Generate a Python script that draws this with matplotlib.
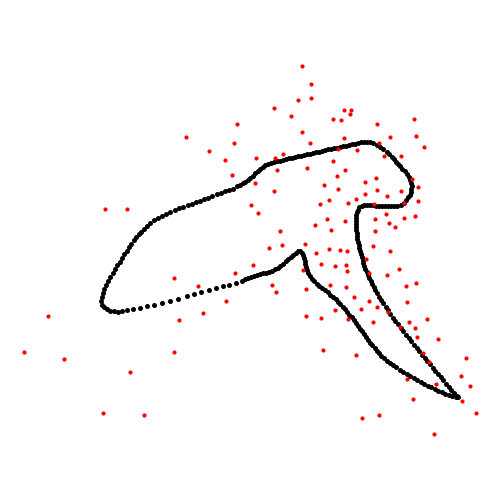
import matplotlib.pyplot as plt
import numpy as np

# scattered red points, read in picture pixels (x right, y down)
red_x = [302.3, 311.3, 298.3, 311.3, 274.3, 291.3, 344.3, 351.3, 350.3, 333.3,
         341.3, 414.3, 377.3, 302.3, 416.3, 390.3, 344.3, 310.3, 379.3, 424.0,
         357.3, 338.3, 256.3, 275.3, 283.3, 384.3, 401.3, 333.3, 277.3, 307.3,
         345.3, 337.3, 376.3, 412.3, 255.3, 365.3, 418.3, 324.3, 338.3, 377.3,
         274.3, 401.3, 365.3, 387.3, 329.3, 356.3, 320.3, 348.3, 374.3, 404.3,
         418.3, 251.3, 258.3, 386.3, 415.3, 327.3, 375.3, 404.3, 389.3, 345.3,
         315.3, 395.3, 331.3, 375.3, 280.3, 282.3, 305.3, 269.3, 373.3, 329.3,
         340.3, 347.3, 316.3, 390.3, 366.3, 321.3, 335.3, 346.3, 253.3, 303.3,
         347.3, 369.3, 399.3, 387.3, 272.3, 276.3, 330.3, 346.3, 406.3, 416.3,
         306.3, 354.3, 369.3, 407.3, 335.3, 361.3, 377.3, 306.3, 321.3, 348.3,
         388.3, 427.3, 373.3, 409.3, 400.3, 415.3, 417.3, 438.3, 323.3, 356.3,
         423.3, 429.3, 466.3, 461.3, 407.3, 436.3, 470.3, 413.3, 462.3, 476.3,
         362.3, 379.3, 434.3,
         237.3, 186.3, 209.3, 234.3, 225.3, 232.3, 105.3, 127.3, 174.3, 235.3,
         198.3, 226.3, 203.3, 179.3, 48.3, 24.3, 64.3, 174.3, 130.3, 103.3, 144.3]
red_y = [66.3, 84.3, 100.3, 98.3, 108.3, 116.3, 110.3, 110.3, 114.3, 119.3,
         120.3, 119.3, 124.3, 132.3, 136.3, 137.3, 138.3, 143.3, 143.3, 147.3,
         150.3, 149.3, 158.3, 158.3, 154.3, 156.3, 156.3, 161.3, 170.3, 168.3,
         170.3, 176.3, 178.3, 179.3, 183.3, 182.3, 187.3, 185.3, 189.3, 190.3,
         191.3, 191.3, 194.3, 196.3, 200.3, 199.3, 204.3, 203.3, 204.3, 203.3,
         201.3, 205.3, 213.3, 214.3, 216.3, 219.3, 219.3, 218.3, 223.3, 221.3,
         225.3, 227.3, 230.3, 231.3, 231.3, 245.3, 244.3, 248.3, 246.3, 249.3,
         250.3, 251.3, 253.3, 251.3, 259.3, 264.3, 266.3, 265.3, 265.3, 270.3,
         271.3, 273.3, 269.3, 275.3, 285.3, 292.3, 285.3, 287.3, 286.3, 283.3,
         289.3, 297.3, 301.3, 302.3, 310.3, 309.3, 307.3, 316.3, 318.3, 319.3,
         312.3, 319.3, 322.3, 322.3, 327.3, 328.3, 337.3, 339.3, 350.3, 355.3,
         353.3, 362.3, 358.3, 376.3, 379.3, 384.3, 386.3, 399.3, 401.3, 413.3,
         418.3, 415.3, 434.3,
         124.3, 137.3, 151.3, 143.3, 160.3, 175.3, 209.3, 209.3, 278.3, 273.3,
         286.3, 301.3, 313.3, 320.3, 316.3, 352.3, 359.3, 352.3, 372.3, 413.3, 415.3]

# black outline, traced piece by piece (picture pixels)
ridge = [(237, 186), (240, 184.5), (242.5, 183), (245, 181.5), (247.5, 179.5), (250, 177.5),
         (252.5, 175.5), (255, 173.3), (257.5, 171), (260, 168.5), (262.5, 166.8), (265, 165.3),
         (268, 164), (271, 163), (274, 162.2), (277, 161.3), (280, 160.6), (283, 159.8),
         (286, 159), (289, 158.2), (292, 157.6), (295, 157), (298, 156.4), (301, 155.8),
         (304, 155.1), (307, 154.4), (310, 153.6), (313, 152.9), (316, 152.2), (319, 151.5),
         (322, 150.8), (325, 150.1), (328, 149.4), (331, 148.8), (334, 148.2), (337, 147.6),
         (340, 147), (343, 146.4), (346, 145.7), (349, 145), (352, 144.3), (355, 143.6),
         (358, 143), (361, 142.4), (364, 142), (367, 141.8), (370, 142.3)]
hook = [(373.3, 143.3), (376.5, 144.8), (380, 146.7), (383, 148.8), (386.7, 151.7), (389, 154),
        (391.5, 156.5), (393.5, 158.7), (396, 161.5), (398, 164), (400, 166.3), (402, 168.8),
        (404.5, 171.3), (406.7, 173.8), (408.5, 176.5), (410.3, 179.5), (411.2, 182.5),
        (411.5, 185.5), (411.2, 188.5), (410.5, 191.5), (409.5, 194.5), (408, 197),
        (406, 199.8), (403.5, 202.5), (400.5, 204.5), (397, 205.7), (394, 206.1), (391, 206.2),
        (388, 206.2), (385, 206.1), (382, 206), (379, 205.9), (376, 205.7), (373, 205.4),
        (370, 205.2), (367, 205), (364, 205.1), (361.5, 205.7), (359.3, 207.2), (357.7, 209.5),
        (356.7, 212.3), (356.1, 215.3), (355.9, 218.3), (355.9, 221.3), (356, 224.3)]
tail_out = [(356.2, 227.3), (356.4, 230.3), (356.7, 233.3), (357, 236.3), (357.4, 239.3),
            (357.9, 242.3), (358.5, 245.3), (359.2, 248.3), (360, 251.3), (360.9, 254.3),
            (361.7, 257.3), (362.5, 260.3), (363.4, 263.3), (364.4, 266.3), (365.4, 269.3),
            (366.6, 272.3), (367.8, 275.3), (369.1, 278.3), (370.5, 281.3), (372, 284.3),
            (373.6, 287.3), (375.3, 290.3), (377, 293.3), (378.9, 296.5), (381, 299.8),
            (383.2, 303.2), (385.6, 306.8), (388, 310.4), (390.4, 314), (392.9, 317.5),
            (395.4, 321), (397.8, 324.3), (400.5, 327.8), (403.3, 331.3), (406, 334.7),
            (408.7, 338), (411.4, 341.3), (414, 344.6), (416.7, 347.9), (419.4, 351.2),
            (422, 354.5), (424.7, 357.8), (427.3, 361), (430, 364.3), (432.7, 367.5),
            (435.3, 370.7), (438, 374), (440.7, 377.2), (443.3, 380.4), (446, 383.6),
            (448.7, 386.8), (451.3, 390), (454, 393.2), (456.5, 396), (458.3, 397)]
tail_back = [(455.5, 397), (452, 396.3), (448.5, 395), (445, 393.5), (441.5, 392), (438, 390.5),
             (434.5, 389), (431, 387.3), (427.5, 385.5), (424, 383.7), (420.5, 381.8),
             (417, 380), (413.5, 378), (410, 376), (406.5, 374), (403, 371.8), (399.5, 369.6),
             (396, 367.4), (392.8, 365.3), (389.7, 363.1), (386.8, 360.7), (384, 358.3),
             (381.4, 355.9), (379, 353.3), (376.7, 350.7), (374.5, 348), (372.3, 345.3),
             (370.2, 342.6), (368.1, 339.8), (366, 337), (364, 334.2), (362, 331.4),
             (360, 328.6), (358, 325.8), (356, 323), (353.8, 320.2), (351.6, 317.4),
             (349.4, 314.6), (347.2, 311.8), (345, 309.2), (342.7, 306.6), (340.3, 304.1),
             (337.9, 301.6), (335.5, 299.2), (333, 296.8), (330.4, 294.6), (327.8, 292.4),
             (325, 290.2), (322.2, 288), (319.4, 285.8), (316.7, 283.5), (314.2, 281.1),
             (311.9, 278.6), (309.8, 276), (308.2, 273.3), (307, 270.3)]
peak = [(306, 267.3), (305.2, 264.3), (304.5, 261.3), (303.9, 258.3), (303.2, 255.3),
        (302.2, 252.7), (300.4, 251), (298, 251.1), (295.5, 252.5), (293, 254.6),
        (290.5, 256.8), (288, 259), (285.5, 261.3), (283, 263.6), (280.3, 265.8),
        (277.5, 267.8), (274.5, 269.4), (271.5, 270.6), (268.5, 271.6), (265.5, 272.5),
        (262.5, 273.4), (259.5, 274.3), (256.5, 275.2), (253.5, 276.1), (250.5, 277),
        (247.5, 278.2), (244.5, 279.4)]
loop = [(242, 280.7), (236, 282.7), (229.3, 284.7), (222.7, 286.3), (215.7, 288.3),
        (208.7, 290.3), (201, 292.3), (193.7, 294.3), (186.7, 296.3), (178.3, 299),
        (170, 300.7), (162.3, 302.7), (154.3, 304.7), (147.3, 306.3), (140, 308),
        (133.3, 309.3), (127.3, 310.3), (122.3, 311.3), (118, 311.7), (114, 311.3),
        (110, 310.7), (106.7, 309.3), (104, 307.3), (102, 304.7), (101, 301.3),
        (101.7, 297.3), (103, 293.3), (104.3, 289.3), (106.3, 285.3), (108.3, 281.3),
        (110.3, 277.3), (112.7, 273.3), (115, 269.3), (117.3, 265.3), (119.7, 261.7),
        (122, 258), (124.3, 254.3), (126.7, 250.7), (129, 247), (131.3, 243.7),
        (133.7, 240.3), (136.3, 237.3), (139, 234.3), (141.3, 231.7), (144, 228.7),
        (147, 226), (150, 223.3), (153.7, 220), (157.7, 218), (161.7, 216), (166, 214),
        (170.3, 211.7), (175, 209.7), (179.3, 208), (183.3, 206.7), (187.7, 205.3),
        (191.7, 204), (196, 202.3), (200, 200.7), (204, 199), (208.3, 197.7),
        (212.3, 196), (216.7, 194.3), (221, 192.7), (225, 191.3), (229, 190), (232.7, 188.7)]

outline = np.array(ridge + hook + tail_out + tail_back + peak + loop)

fig = plt.figure(figsize=(5, 5), dpi=100)
ax = fig.add_axes([0, 0, 1, 1])
ax.scatter(outline[:, 0], outline[:, 1], s=13, c='black', linewidths=0, zorder=2)
ax.scatter(red_x, red_y, s=9, c='red', linewidths=0, zorder=3)
ax.set_xlim(0, 500)
ax.set_ylim(500, 0)
ax.axis('off')

plt.savefig('out.png', dpi=100)
